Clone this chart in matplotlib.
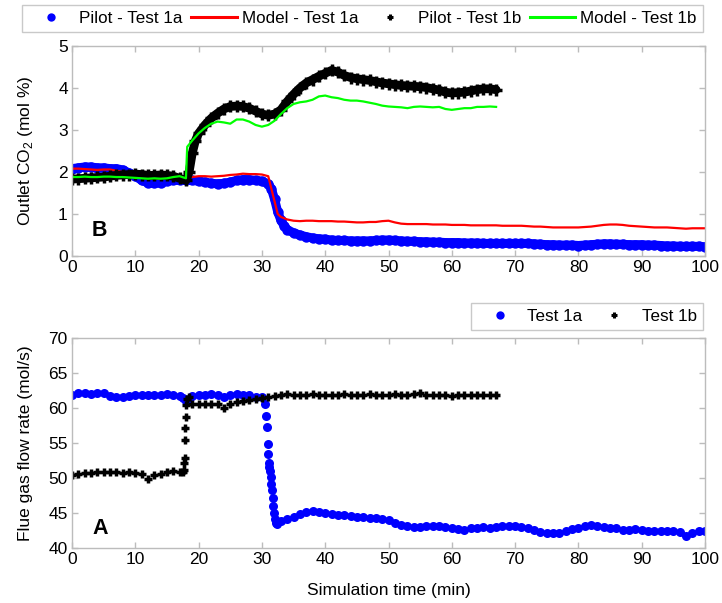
import matplotlib
matplotlib.use("Agg")
import matplotlib.pyplot as plt
from matplotlib.lines import Line2D

plt.rcParams['font.family'] = ['Liberation Sans', 'DejaVu Sans']
plt.rcParams['mathtext.fontset'] = 'custom'
plt.rcParams['mathtext.rm'] = 'Liberation Sans'

# ---------------- Outlet CO2 (panel B) ----------------
t_pilot_1a = [0, 1, 2, 3, 4, 5, 6, 7, 8, 9, 10, 11, 12, 13, 14, 15, 16, 17, 18, 19,
              20, 21, 22, 23, 24, 25, 26, 27, 28, 29, 30, 31, 31.5, 32, 32.5, 33, 33.5, 34, 35, 36,
              37, 38, 39, 40, 41, 42, 43, 44, 45, 46, 47, 48, 49, 50,
              51, 52, 53, 54, 55, 56, 57, 58, 59, 60,
              61, 62, 63, 64, 65, 66, 67, 68, 69, 70,
              71, 72, 73, 74, 75, 76, 77, 78, 79, 80,
              81, 82, 83, 84, 85, 86, 87, 88, 89, 90,
              91, 92, 93, 94, 95, 96, 97, 98, 99, 100]
co2_pilot_1a = [2.08, 2.10, 2.12, 2.12, 2.10, 2.10, 2.08, 2.08, 2.05, 1.98, 1.90, 1.80, 1.74, 1.73, 1.74, 1.78, 1.80, 1.80, 1.80, 1.80,
                1.78, 1.76, 1.73, 1.72, 1.73, 1.76, 1.80, 1.82, 1.82, 1.80, 1.78, 1.72, 1.60, 1.35, 1.05, 0.85, 0.72, 0.63, 0.55, 0.50,
                0.46, 0.43, 0.41, 0.40, 0.38, 0.37, 0.37, 0.36, 0.36, 0.36, 0.36, 0.37, 0.38, 0.38,
                0.37, 0.36, 0.35, 0.35, 0.34, 0.34, 0.33, 0.33, 0.32, 0.32,
                0.32, 0.31, 0.31, 0.31, 0.30, 0.30, 0.30, 0.30, 0.30, 0.30,
                0.30, 0.30, 0.29, 0.28, 0.27, 0.27, 0.26, 0.26, 0.26, 0.25,
                0.26, 0.27, 0.28, 0.29, 0.29, 0.28, 0.28, 0.27, 0.27, 0.27,
                0.26, 0.26, 0.25, 0.24, 0.24, 0.23, 0.23, 0.23, 0.23, 0.22]

t_model_1a = [0.3, 1, 2, 3, 4, 5, 6, 7, 8, 9, 10, 11, 12, 13, 14, 15, 16, 17, 18, 19,
              20, 21, 22, 23, 24, 25, 26, 27, 28, 29, 30, 31, 31.5, 32, 32.5, 33, 34, 35, 36,
              37, 38, 39, 40, 41, 42, 43, 44, 45, 46, 47, 48, 49, 50,
              51, 52, 53, 54, 55, 56, 57, 58, 59, 60,
              61, 62, 63, 64, 65, 66, 67, 68, 69, 70,
              71, 72, 73, 74, 75, 76, 77, 78, 79, 80,
              81, 82, 83, 84, 85, 86, 87, 88, 89, 90,
              91, 92, 93, 94, 95, 96, 97, 98, 99, 100]
co2_model_1a = [2.08, 2.08, 2.07, 2.06, 2.05, 2.06, 2.06, 2.03, 2.00, 1.97, 1.93, 1.88, 1.85, 1.84, 1.85, 1.88, 1.90, 1.90, 1.88, 1.88,
                1.90, 1.90, 1.89, 1.90, 1.91, 1.93, 1.94, 1.96, 1.95, 1.95, 1.94, 1.90, 1.60, 1.30, 1.00, 0.93, 0.87, 0.84, 0.83,
                0.84, 0.84, 0.83, 0.83, 0.83, 0.82, 0.82, 0.81, 0.80, 0.80, 0.81, 0.81, 0.83, 0.84,
                0.80, 0.77, 0.76, 0.76, 0.76, 0.76, 0.75, 0.75, 0.75, 0.74,
                0.74, 0.74, 0.73, 0.73, 0.73, 0.73, 0.73, 0.72, 0.72, 0.72,
                0.72, 0.71, 0.70, 0.70, 0.69, 0.68, 0.68, 0.68, 0.68, 0.68,
                0.69, 0.70, 0.72, 0.74, 0.75, 0.75, 0.74, 0.72, 0.71, 0.70,
                0.69, 0.68, 0.68, 0.68, 0.67, 0.66, 0.65, 0.66, 0.66, 0.66]

t_pilot_1b = [0, 1, 2, 3, 4, 5, 6, 7, 8, 9, 10, 11, 12, 13, 14, 15, 16, 17, 18, 18.5, 19, 19.5,
              20, 21, 22, 23, 24, 25, 26, 27, 28, 29, 30, 31, 32, 33, 34, 35, 36, 37, 38, 39,
              40, 41, 42, 43, 44, 45, 46, 47, 48, 49, 50, 51, 52, 53, 54, 55, 56, 57, 58, 59,
              60, 61, 62, 63, 64, 65, 66, 67]
co2_pilot_1b = [1.83, 1.84, 1.85, 1.86, 1.87, 1.88, 1.90, 1.92, 1.93, 1.94, 1.95, 1.94, 1.92, 1.92, 1.93, 1.92, 1.90, 1.85, 1.80, 2.00, 2.45, 2.75,
                2.92, 3.12, 3.28, 3.40, 3.50, 3.56, 3.57, 3.56, 3.52, 3.45, 3.38, 3.35, 3.38, 3.48, 3.68, 3.85, 4.00, 4.12, 4.20, 4.28,
                4.35, 4.42, 4.38, 4.30, 4.25, 4.22, 4.20, 4.18, 4.15, 4.12, 4.10, 4.08, 4.06, 4.05, 4.04, 4.03, 4.01, 3.98, 3.95, 3.90,
                3.88, 3.89, 3.90, 3.93, 3.96, 3.98, 3.98, 3.96]

t_model_1b = [0, 1, 2, 3, 4, 5, 6, 7, 8, 9, 10, 11, 12, 13, 14, 15, 16, 17, 18, 18.2, 19,
              20, 21, 22, 23, 24, 25, 26, 27, 28, 29, 30, 31, 32, 33, 34, 35, 36, 37, 38, 39,
              40, 41, 42, 43, 44, 45, 46, 47, 48, 49, 50, 51, 52, 53, 54, 55, 56, 57, 58, 59,
              60, 61, 62, 63, 64, 65, 66, 67]
co2_model_1b = [1.88, 1.88, 1.89, 1.88, 1.88, 1.89, 1.89, 1.88, 1.88, 1.87, 1.86, 1.85, 1.84, 1.85, 1.84, 1.85, 1.88, 1.90, 1.85, 2.60, 2.75,
                2.92, 3.05, 3.15, 3.20, 3.18, 3.15, 3.25, 3.25, 3.20, 3.12, 3.08, 3.12, 3.22, 3.38, 3.52, 3.62, 3.66, 3.68, 3.72, 3.80,
                3.82, 3.78, 3.76, 3.72, 3.70, 3.70, 3.68, 3.65, 3.62, 3.58, 3.56, 3.55, 3.54, 3.52, 3.55, 3.56, 3.55, 3.54, 3.55, 3.50,
                3.48, 3.50, 3.52, 3.52, 3.55, 3.55, 3.56, 3.55]

# ---------------- Flue gas flow rate (panel A) ----------------
t_flow_1a = [0, 1, 2, 3, 4, 5, 6, 7, 8, 9, 10, 11, 12, 13, 14, 15, 16, 17, 17.5, 18, 18.5, 19,
             20, 21, 22, 23, 24, 25, 26, 27, 28, 29, 30, 30.5,
             30.7, 30.8, 30.9, 31.0, 31.05, 31.15, 31.25, 31.4, 31.5, 31.6, 31.7, 31.8, 31.9, 32.0, 32.2, 32.4,
             33, 34, 35, 36, 37, 38, 39, 40, 41, 42, 43, 44, 45, 46, 47, 48, 49, 50,
             51, 52, 53, 54, 55, 56, 57, 58, 59, 60, 61, 62, 63, 64, 65, 66, 67, 68, 69, 70,
             71, 72, 73, 74, 75, 76, 77, 78, 79, 80, 81, 82, 83, 84, 85, 86, 87, 88, 89, 90,
             91, 92, 93, 94, 95, 96, 97, 98, 99, 100]
flow_1a = [61.9, 62.2, 62.2, 62.0, 62.1, 62.1, 61.7, 61.6, 61.6, 61.7, 61.8, 61.8, 61.9, 61.8, 61.8, 62.0, 61.9, 61.7, 61.4, 61.0, 61.3, 61.7,
           61.8, 61.9, 62.0, 61.8, 61.6, 61.8, 62.0, 61.9, 61.8, 61.6, 61.5, 60.5,
           58.8, 57.3, 54.9, 53.4, 52.1, 51.5, 51.0, 50.2, 49.2, 48.3, 47.1, 46.0, 45.0, 44.2, 43.6, 43.5,
           43.8, 44.2, 44.5, 44.8, 45.2, 45.3, 45.2, 45.0, 44.9, 44.7, 44.7, 44.6, 44.5, 44.4, 44.3, 44.3, 44.1, 44.0,
           43.6, 43.3, 43.1, 43.0, 43.0, 43.1, 43.2, 43.2, 43.0, 42.8, 42.7, 42.6, 42.8, 42.9, 43.0, 42.9, 43.0, 43.1, 43.2, 43.2,
           43.0, 42.8, 42.6, 42.3, 42.1, 42.1, 42.2, 42.5, 42.7, 42.9, 43.1, 43.3, 43.2, 43.0, 42.9, 42.8, 42.6, 42.6, 42.7, 42.6,
           42.5, 42.4, 42.4, 42.4, 42.5, 42.3, 41.7, 42.2, 42.4, 42.4]

t_flow_1b = [0, 1, 2, 3, 4, 5, 6, 7, 8, 9, 10, 11, 12, 13, 14, 15, 16, 17, 17.5,
             17.7, 17.75, 17.8, 17.85, 17.9, 17.95, 18.0, 18.2, 18.5, 19,
             20, 21, 22, 23, 24, 25, 26, 27, 28, 29, 30, 31, 32, 33, 34, 35, 36, 37, 38, 39,
             40, 41, 42, 43, 44, 45, 46, 47, 48, 49, 50, 51, 52, 53, 54, 55, 56, 57, 58, 59,
             60, 61, 62, 63, 64, 65, 66, 67]
flow_1b = [50.4, 50.6, 50.7, 50.7, 50.8, 50.8, 50.8, 50.8, 50.7, 50.8, 50.7, 50.5, 49.9, 50.4, 50.6, 50.8, 51.0, 50.9, 50.8,
           51.2, 52.1, 52.8, 55.4, 57.1, 58.7, 60.4, 61.3, 61.6, 60.6,
           60.5, 60.6, 60.6, 60.5, 60.0, 60.6, 60.9, 61.0, 61.1, 61.3, 61.4, 61.5, 61.7, 61.9, 62.0, 61.9, 61.8, 61.9, 62.0, 61.8,
           61.9, 61.8, 61.9, 62.0, 61.8, 61.9, 61.9, 62.0, 61.9, 61.8, 61.9, 62.0, 61.9, 61.8, 62.0, 62.1, 61.9, 61.8, 61.9, 61.8,
           61.7, 61.9, 61.8, 61.8, 61.9, 61.8, 61.8, 61.8]

x_ticks = [0, 10, 20, 30, 40, 50, 60, 70, 80, 90, 100]
co2_ticks = [0, 1, 2, 3, 4, 5]
flow_ticks = [40, 45, 50, 55, 60, 65, 70]

BLUE = '#0000ff'
RED = '#ff0000'
GREEN = '#00ff00'
EDGE_GREY = '#bcbcbc'
FS = 12.5

fig = plt.figure(figsize=(7.22, 6.03), dpi=100)
axB = fig.add_axes([72 / 722, 1 - 256 / 603, 633 / 722, 210 / 603])
axA = fig.add_axes([72 / 722, 1 - 548 / 603, 633 / 722, 210 / 603])


def style_axes(ax):
    for s in ax.spines.values():
        s.set_color(EDGE_GREY)
        s.set_linewidth(1.0)
    ax.tick_params(direction='in', top=True, right=True, length=4.5, width=1.0,
                   color=EDGE_GREY, labelsize=FS, labelcolor='black', pad=3)
    ax.set_xlim(0, 100)
    ax.set_xticks(x_ticks)


# Panel B: outlet CO2 -- pilot data are dense samples, drawn as a thick band of markers
axB.plot(t_pilot_1a, co2_pilot_1a, '-', color=BLUE, lw=6.5, solid_capstyle='round')
axB.plot(t_pilot_1a, co2_pilot_1a, 'o', color=BLUE, ms=7.5, mew=0)
axB.plot(t_model_1a, co2_model_1a, '-', color=RED, lw=1.6)
axB.plot(t_pilot_1b, co2_pilot_1b, '-', color='black', lw=6.3, solid_capstyle='round')
axB.plot(t_pilot_1b, co2_pilot_1b, '+', color='black', ms=8, mew=2.5)
axB.plot(t_model_1b, co2_model_1b, '-', color=GREEN, lw=1.6)
style_axes(axB)
axB.set_ylim(0, 5)
axB.set_yticks(co2_ticks)
axB.set_ylabel(r'Outlet CO$_\mathrm{2}$ (mol %)', fontsize=FS, va='center')
axB.yaxis.set_label_coords(-0.074, 0.5)
axB.text(0.044, 0.12, 'B', transform=axB.transAxes, fontsize=15.5, fontweight='bold',
         ha='center', va='center')

# Panel A: flue gas flow rate
axA.plot(t_flow_1a, flow_1a, 'o', color=BLUE, ms=6.5, mew=0)
axA.plot(t_flow_1b, flow_1b, '+', color='black', ms=6.2, mew=2.5)
style_axes(axA)
axA.set_ylim(40, 70)
axA.set_yticks(flow_ticks)
axA.set_ylabel('Flue gas flow rate (mol/s)', fontsize=FS, va='center')
axA.yaxis.set_label_coords(-0.074, 0.5)
axA.set_xlabel('Simulation time (min)', fontsize=FS, va='center')
axA.xaxis.set_label_coords(0.5, -0.2)
axA.text(0.044, 0.095, 'A', transform=axA.transAxes, fontsize=15.5, fontweight='bold',
         ha='center', va='center')

legend_kw = dict(fontsize=12.25, handlelength=2.65, handletextpad=0.3, columnspacing=0.55,
                 borderpad=0.36, numpoints=1, frameon=True, fancybox=False,
                 edgecolor=EDGE_GREY, borderaxespad=0)

hB = [Line2D([], [], ls='none', marker='o', color=BLUE, ms=6, mew=0),
      Line2D([], [], ls='-', color=RED, lw=2.2),
      Line2D([], [], ls='none', marker='+', color='black', ms=5, mew=2.2),
      Line2D([], [], ls='-', color=GREEN, lw=2.2)]
legB = fig.legend(hB, ['Pilot - Test 1a', 'Model - Test 1a', 'Pilot - Test 1b', 'Model - Test 1b'],
                  loc='upper right', bbox_to_anchor=(703 / 722, 1 - 5 / 603), ncol=4, **legend_kw)
legB.get_frame().set_linewidth(1.0)

hA = [Line2D([], [], ls='none', marker='o', color=BLUE, ms=6, mew=0),
      Line2D([], [], ls='none', marker='+', color='black', ms=5, mew=2.2)]
legA = fig.legend(hA, ['Test 1a', 'Test 1b'], loc='upper right',
                  bbox_to_anchor=(703 / 722, 1 - 303 / 603), ncol=2, **legend_kw)
legA.get_frame().set_linewidth(1.0)

fig.savefig('out.png', dpi=100)
